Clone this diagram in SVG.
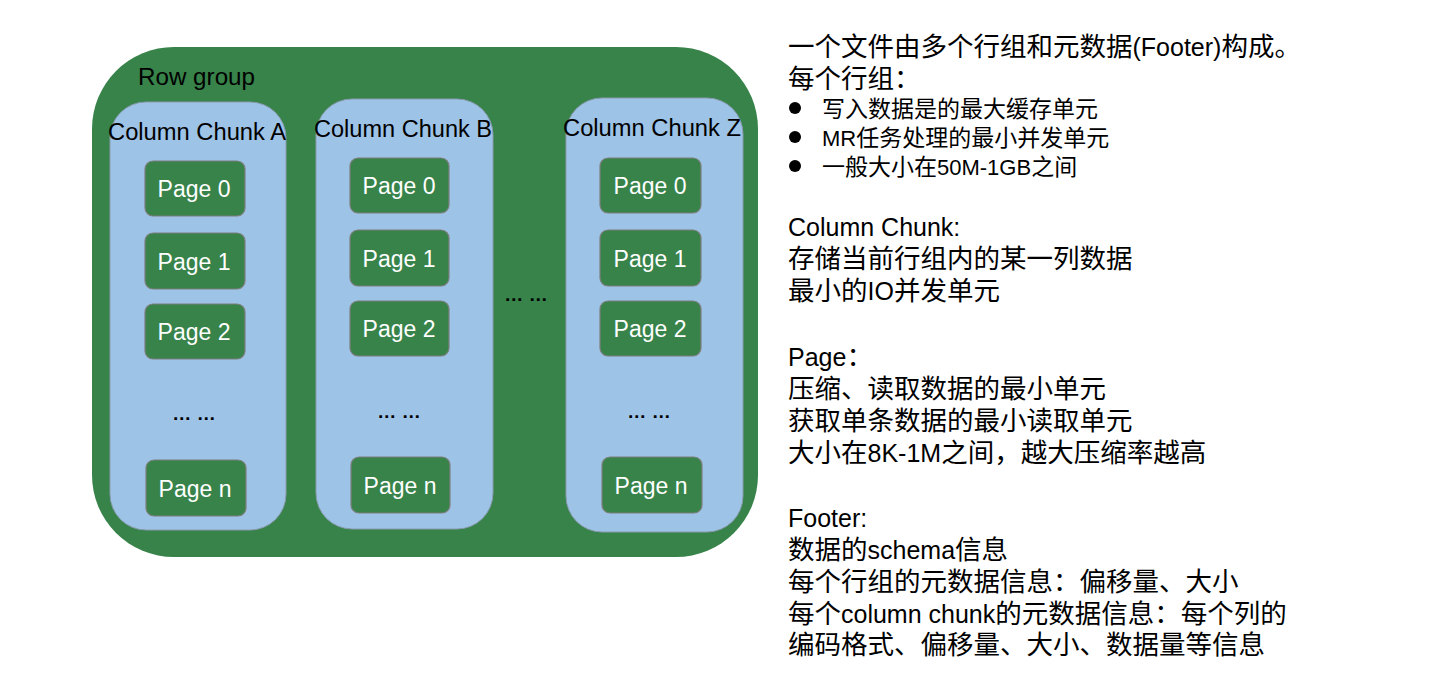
<svg xmlns="http://www.w3.org/2000/svg" width="1448" height="694" viewBox="0 0 1448 694">
<style>
.rg{fill:#37834a;}
.chunk{fill:#9dc3e6;stroke:#8a9bb0;stroke-width:1;}
.page{fill:#37834a;stroke:#7f7f7f;stroke-width:1.2;}
.pt{font-family:"Liberation Sans",Arial,sans-serif;font-size:23px;fill:#ffffff;text-anchor:middle;}
.ct{font-family:"Liberation Sans",Arial,sans-serif;font-size:23px;fill:#000;text-anchor:middle;}
.dots{font-family:"Liberation Sans",Arial,sans-serif;font-size:19px;font-weight:bold;fill:#000;text-anchor:middle;}
.tx{font-family:"Liberation Sans","Noto Sans CJK SC",sans-serif;font-size:26.5px;fill:#000;}
.bx{font-family:"Liberation Sans","Noto Sans CJK SC",sans-serif;font-size:23px;fill:#000;}
.la{font-size:25px;}
.lb{font-size:22px;}
</style>
<rect width="1448" height="694" fill="#ffffff"/>
<g id="rowgroup">
<rect class="rg" x="92" y="47" width="666" height="510" rx="82" ry="82"/>
<text x="138" y="85" font-family="Liberation Sans,Arial,sans-serif" font-size="23" fill="#000" textLength="117" lengthAdjust="spacingAndGlyphs">Row group</text>
</g>
<g id="chunkA">
<rect class="chunk" x="110" y="102" width="176" height="428" rx="36" ry="36"/>
<text class="ct" x="197" y="140" textLength="178" lengthAdjust="spacingAndGlyphs">Column Chunk A</text>
</g>
<g id="chunkB">
<rect class="chunk" x="316" y="99" width="177" height="430" rx="36" ry="36"/>
<text class="ct" x="403" y="137" textLength="178" lengthAdjust="spacingAndGlyphs">Column Chunk B</text>
</g>
<g id="chunkZ">
<rect class="chunk" x="566" y="98" width="177" height="434" rx="36" ry="36"/>
<text class="ct" x="652" y="136" textLength="178" lengthAdjust="spacingAndGlyphs">Column Chunk Z</text>
</g>
<g id="a0"><rect class="page" x="145" y="161" width="100" height="55" rx="8"/><text class="pt" x="194" y="197">Page 0</text></g>
<g id="a1"><rect class="page" x="145" y="233" width="100" height="56" rx="8"/><text class="pt" x="194" y="270">Page 1</text></g>
<g id="a2"><rect class="page" x="145" y="304" width="100" height="55" rx="8"/><text class="pt" x="194" y="340">Page 2</text></g>
<g id="an"><rect class="page" x="146" y="460" width="100" height="56" rx="8"/><text class="pt" x="195" y="497">Page n</text></g>
<g id="b0"><rect class="page" x="350" y="158" width="99" height="55" rx="8"/><text class="pt" x="399" y="194">Page 0</text></g>
<g id="b1"><rect class="page" x="350" y="230" width="99" height="56" rx="8"/><text class="pt" x="399" y="267">Page 1</text></g>
<g id="b2"><rect class="page" x="350" y="301" width="99" height="55" rx="8"/><text class="pt" x="399" y="337">Page 2</text></g>
<g id="bn"><rect class="page" x="351" y="457" width="99" height="56" rx="8"/><text class="pt" x="400" y="494">Page n</text></g>
<g id="z0"><rect class="page" x="600" y="158" width="101" height="55" rx="8"/><text class="pt" x="650" y="194">Page 0</text></g>
<g id="z1"><rect class="page" x="600" y="230" width="101" height="56" rx="8"/><text class="pt" x="650" y="267">Page 1</text></g>
<g id="z2"><rect class="page" x="600" y="301" width="101" height="55" rx="8"/><text class="pt" x="650" y="337">Page 2</text></g>
<g id="zn"><rect class="page" x="602" y="457" width="100" height="56" rx="8"/><text class="pt" x="651" y="494">Page n</text></g>
<g id="ellipses">
<text class="dots" x="194" y="420">… …</text>
<text class="dots" x="399" y="418">… …</text>
<text class="dots" x="649" y="418">… …</text>
<text class="dots" x="526" y="301">… …</text>
</g>
<g id="connectors"></g>
<g id="notes">
<text class="tx" x="788" y="56">一个文件由多个行组和元数据<tspan class="la">(Footer)</tspan>构成。</text>
<text class="tx" x="788" y="88">每个行组：</text>
<circle cx="795" cy="108" r="6" fill="#000"/>
<circle cx="795" cy="137" r="6" fill="#000"/>
<circle cx="795" cy="166" r="6" fill="#000"/>
<text class="bx" x="822" y="117">写入数据是的最大缓存单元</text>
<text class="bx" x="822" y="146"><tspan class="lb">MR</tspan>任务处理的最小并发单元</text>
<text class="bx" x="822" y="175">一般大小在<tspan class="lb">50M-1GB</tspan>之间</text>
<text class="tx la" x="788" y="236">Column Chunk:</text>
<text class="tx" x="788" y="268">存储当前行组内的某一列数据</text>
<text class="tx" x="788" y="300">最小的<tspan class="la">IO</tspan>并发单元</text>
<text class="tx" x="788" y="366"><tspan class="la">Page</tspan>：</text>
<text class="tx" x="788" y="398">压缩、读取数据的最小单元</text>
<text class="tx" x="788" y="430">获取单条数据的最小读取单元</text>
<text class="tx" x="788" y="462">大小在<tspan class="la">8K-1M</tspan>之间，越大压缩率越高</text>
<text class="tx la" x="788" y="527">Footer:</text>
<text class="tx" x="788" y="559">数据的<tspan class="la">schema</tspan>信息</text>
<text class="tx" x="788" y="591">每个行组的元数据信息：偏移量、大小</text>
<text class="tx" x="788" y="623">每个<tspan class="la">column chunk</tspan>的元数据信息：每个列的</text>
<text class="tx" x="788" y="654">编码格式、偏移量、大小、数据量等信息</text>
</g>
</svg>
